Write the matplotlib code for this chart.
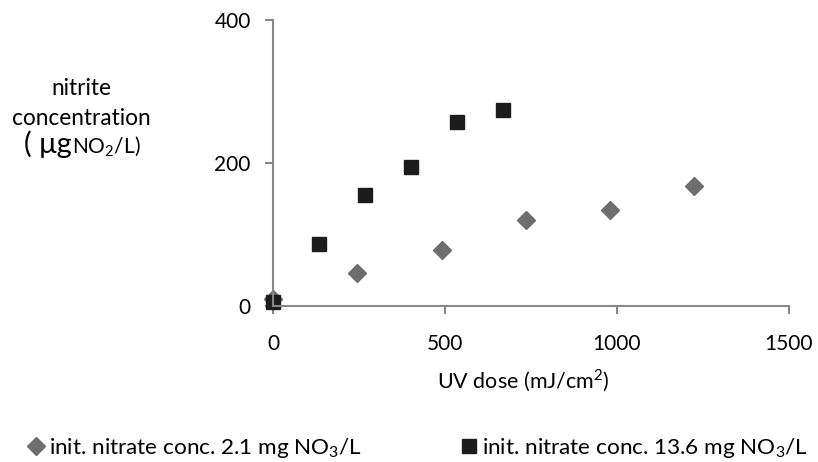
import matplotlib
matplotlib.use("Agg")
import matplotlib.pyplot as plt

plt.rcParams['font.family'] = ['Lato', 'Noto Sans', 'DejaVu Sans']

dose_low = [0, 245, 490, 735, 980, 1225]
nitrite_low = [10, 46, 79, 120, 134, 168]
dose_high = [0, 134, 268, 402, 536, 670]
nitrite_high = [5, 87, 155, 195, 257, 274]

label_low = "init. nitrate conc. 2.1 mg NO$_\\mathregular{3}$/L"
label_high = "init. nitrate conc. 13.6 mg NO$_\\mathregular{3}$/L"
xticks = [0, 500, 1000, 1500]
yticks = [0, 200, 400]

W, H = 818, 462
fig = plt.figure(figsize=(W / 100, H / 100), dpi=100)
ax = fig.add_axes([273 / W, 1 - 306 / H, (789 - 273) / W, (306 - 20) / H])

spine_c = '#868686'
ax.plot(dose_low, nitrite_low, linestyle='none', marker='D', markersize=9.3,
        color='#6e6e6e', clip_on=False, label=label_low)
ax.plot(dose_high, nitrite_high, linestyle='none', marker='s', markersize=10,
        color='#1c1c1c', clip_on=False, label=label_high)

ax.set_xlim(0, 1500)
ax.set_ylim(0, 400)
ax.set_xticks(xticks)
ax.set_yticks(yticks)
for s in ['top', 'right']:
    ax.spines[s].set_visible(False)
for s in ['left', 'bottom']:
    ax.spines[s].set_color(spine_c)
    ax.spines[s].set_linewidth(1.5)
ax.tick_params(axis='both', colors=spine_c, labelcolor='black', length=6,
               width=1.5, labelsize=15)
ax.tick_params(axis='y', pad=10)
ax.tick_params(axis='x', pad=14)

ax.set_xlabel("UV dose (mJ/cm$^\\mathregular{2}$)", fontsize=15.5)
ax.xaxis.set_label_coords((523 - 273) / (789 - 273), -(381 - 306) / (306 - 20), transform=ax.transAxes)
ax.xaxis.label.set_va('center')

# y-axis label (three lines)
fig.text(81 / W, 1 - 95 / H, "nitrite", ha='center', va='baseline', fontsize=16.3)
fig.text(81 / W, 1 - 125 / H, "concentration", ha='center', va='baseline', fontsize=16.3)
fig.text(72 / W, 1 - 153 / H, "( \u03bcg", ha='right', va='baseline', fontsize=21)
fig.text(72 / W, 1 - 153 / H, "NO$_\\mathregular{2}$/L)", ha='left', va='baseline', fontsize=15)

fig.legend(loc='center left', bbox_to_anchor=(22 / W, 1 - 448 / H), ncol=2,
           frameon=False, fontsize=16.2, handletextpad=0.0, columnspacing=4.15,
           handlelength=1.2, borderaxespad=0, borderpad=0)

fig.savefig("out.png", dpi=100)
